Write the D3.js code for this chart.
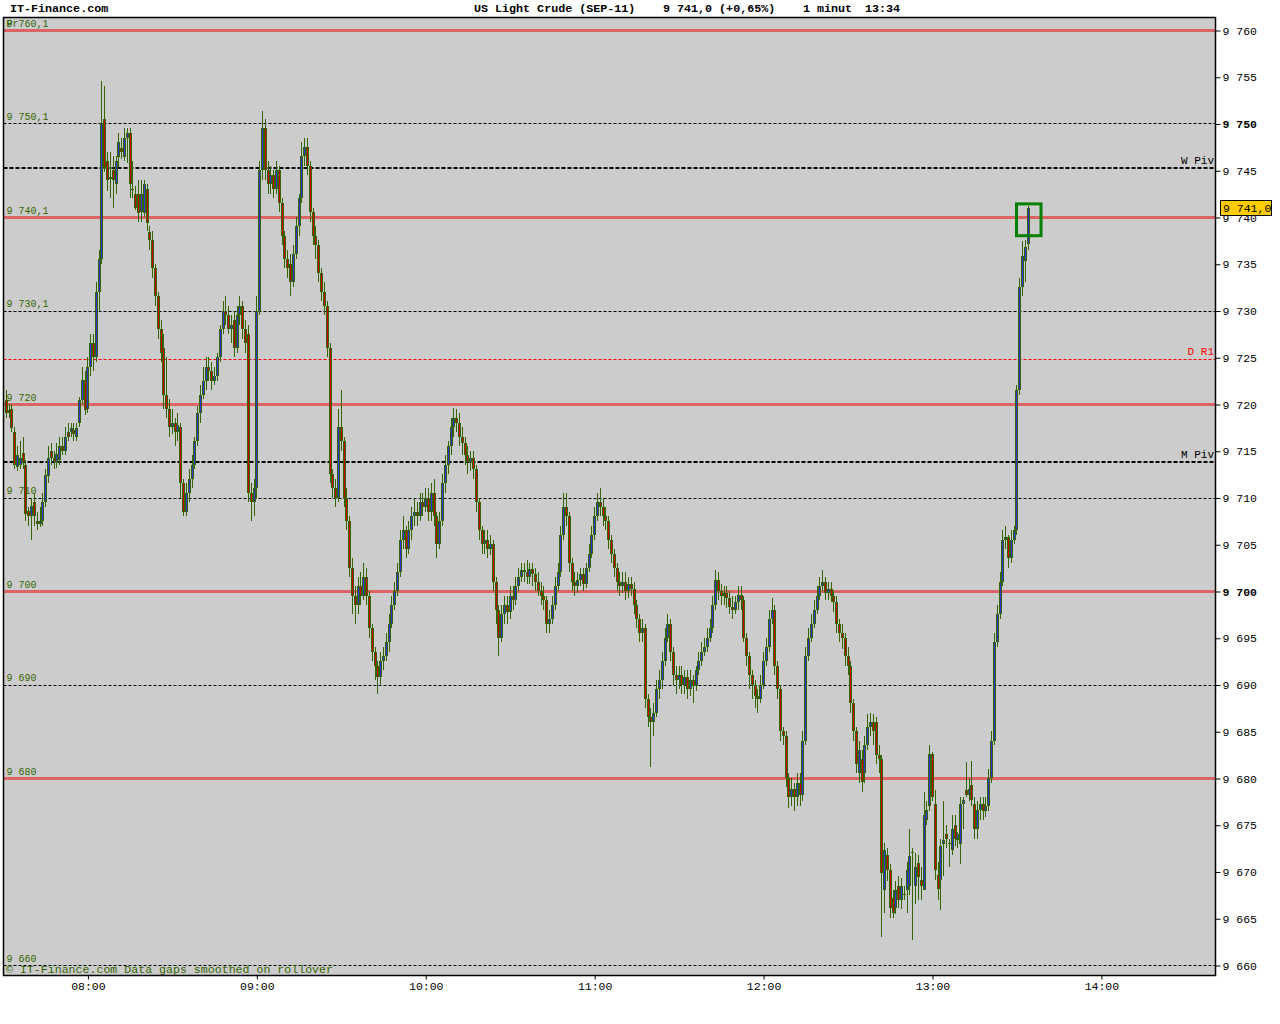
<!DOCTYPE html>
<html><head><meta charset="utf-8">
<script src="https://cdn.jsdelivr.net/npm/d3@7"></script>
<style>
html,body{margin:0;padding:0;background:#fff;}
svg{display:block;}
text{font-family:"Liberation Mono","DejaVu Sans Mono",monospace;white-space:pre;}
</style>
</head><body>
<svg id="chart" width="1280" height="1024"></svg>
<script>
// ---------- DATA ----------
const startMinute = 451; // 07:31, one candle per minute
const opens = [
9720.4,9719.4,9719.5,9717.0,9713.3,9713.5,9714.8,9713.5,9708.6,9708.0,
9709.5,9707.5,9707.2,9707.5,9709.5,9712.3,9715.0,9714.2,9713.8,9714.0,
9715.5,9715.0,9717.0,9717.0,9717.2,9716.5,9718.0,9720.4,9722.6,9719.5,
9724.0,9726.5,9725.0,9732.0,9735.5,9750.5,9746.0,9744.3,9745.0,9743.5,
9746.4,9747.4,9746.4,9748.4,9749.0,9743.0,9742.5,9742.5,9740.5,9740.4,
9743.0,9738.4,9737.5,9734.5,9731.5,9728.0,9726.0,9721.0,9719.5,9717.5,
9718.0,9717.0,9717.5,9711.5,9708.5,9710.5,9712.0,9713.5,9716.0,9719.0,
9721.0,9722.5,9724.0,9723.5,9722.5,9723.0,9725.0,9728.0,9730.0,9729.5,
9728.0,9729.0,9726.0,9729.5,9730.5,9728.0,9727.5,9710.5,9709.5,9711.0,
9730.0,9745.0,9749.5,9745.0,9743.5,9744.5,9743.0,9745.0,9741.5,9738.0,
9735.5,9735.0,9733.0,9736.0,9739.0,9742.0,9746.5,9747.5,9745.5,9740.5,
9738.0,9737.0,9734.0,9732.0,9730.5,9726.0,9712.5,9711.0,9710.0,9717.5,
9716.0,9710.0,9707.5,9702.5,9699.5,9698.5,9700.5,9699.5,9701.5,9699.5,
9696.0,9693.5,9692.0,9690.8,9692.5,9693.0,9694.5,9696.5,9698.5,9700.0,
9702.0,9705.5,9706.5,9704.5,9706.5,9708.0,9708.5,9708.0,9709.5,9709.0,
9710.0,9708.5,9710.5,9708.0,9705.0,9707.5,9711.5,9713.5,9715.5,9717.5,
9718.5,9718.0,9716.5,9715.8,9714.5,9713.8,9714.2,9713.0,9709.5,9706.5,
9705.0,9705.5,9704.5,9705.0,9701.0,9698.0,9695.0,9697.5,9698.5,9697.8,
9699.5,9699.0,9700.5,9701.5,9702.2,9702.0,9701.5,9702.3,9701.8,9701.0,
9700.0,9699.5,9699.0,9696.5,9697.0,9698.5,9700.5,9702.0,9706.0,9709.0,
9708.0,9703.0,9701.0,9700.5,9701.2,9701.8,9700.8,9702.5,9704.0,9706.0,
9708.0,9709.5,9709.0,9708.0,9707.5,9705.5,9704.0,9702.5,9701.0,9700.5,
9701.0,9700.0,9700.8,9700.2,9698.5,9697.0,9695.5,9696.0,9688.5,9686.5,
9686.0,9687.0,9689.5,9690.5,9692.5,9695.0,9696.5,9693.5,9691.0,9690.5,
9691.0,9690.0,9690.8,9689.5,9690.5,9689.8,9691.5,9692.5,9693.5,9694.0,
9695.0,9696.0,9698.5,9701.2,9700.0,9699.5,9699.8,9699.2,9698.3,9698.0,
9698.8,9699.6,9699.0,9695.0,9693.0,9691.0,9690.0,9688.8,9688.5,9690.0,
9692.5,9694.0,9697.0,9698.0,9692.0,9689.5,9685.0,9684.5,9680.0,9678.0,
9678.8,9678.0,9679.5,9678.2,9684.0,9693.0,9695.0,9696.5,9698.0,9699.5,
9700.5,9701.0,9699.8,9700.2,9699.5,9698.8,9696.5,9695.5,9695.0,9693.0,
9692.0,9688.0,9685.0,9680.5,9682.0,9680.5,9683.5,9685.5,9686.0,9686.0,
9682.5,9682.0,9668.0,9671.8,9670.2,9667.2,9666.1,9668.5,9667.0,9667.6,
9668.0,9668.5,9672.1,9668.5,9670.9,9669.1,9668.0,9675.5,9677.0,9682.6,
9677.2,9669.6,9669.1,9672.9,9674.0,9673.0,9672.3,9675.0,9673.4,9672.9,
9677.2,9678.7,9678.2,9679.3,9677.2,9674.5,9676.6,9677.2,9676.5,9677.0,
9680.0,9684.0,9694.5,9697.5,9701.0,9705.5,9705.8,9703.5,9705.5,9706.5,
9721.5,9732.5,9735.3,9737.1];
const highs = [
9721.5,9720.0,9720.0,9717.5,9715.5,9716.0,9716.5,9714.0,9709.0,9710.0,
9710.5,9708.5,9709.0,9710.5,9713.0,9715.5,9715.8,9715.0,9715.8,9716.5,
9716.5,9717.5,9718.0,9718.0,9718.0,9718.0,9720.8,9724.0,9723.5,9725.0,
9727.5,9727.5,9733.0,9736.5,9754.5,9754.0,9747.0,9747.0,9746.5,9746.5,
9749.0,9748.5,9749.5,9749.5,9749.5,9746.0,9743.3,9744.0,9744.0,9744.0,
9743.5,9739.0,9738.5,9735.0,9732.0,9729.0,9727.5,9725.0,9720.5,9719.5,
9718.5,9719.0,9718.0,9712.0,9711.5,9713.0,9714.5,9716.5,9719.8,9722.0,
9724.0,9725.0,9725.0,9724.5,9724.0,9725.5,9728.5,9731.0,9731.5,9730.5,
9729.5,9730.0,9730.5,9731.5,9731.0,9729.0,9728.5,9711.5,9712.0,9731.5,
9746.0,9751.3,9750.5,9746.0,9745.5,9745.0,9746.0,9745.5,9742.0,9738.5,
9736.5,9736.0,9737.0,9740.0,9742.5,9748.0,9748.5,9748.5,9746.0,9741.0,
9739.0,9737.5,9734.5,9733.0,9731.0,9726.5,9713.0,9712.0,9719.5,9721.5,
9716.5,9711.0,9708.0,9703.5,9700.5,9701.5,9702.0,9703.0,9702.5,9700.0,
9696.5,9694.0,9692.5,9693.5,9694.0,9695.5,9697.5,9699.5,9701.0,9703.0,
9706.5,9708.0,9707.0,9707.5,9709.0,9710.0,9709.5,9710.5,9710.5,9711.0,
9711.0,9711.5,9712.0,9708.5,9708.5,9712.5,9714.5,9716.0,9718.5,9719.6,
9719.5,9719.0,9717.5,9716.5,9715.5,9715.0,9715.0,9713.5,9710.0,9707.0,
9706.5,9706.5,9706.0,9705.5,9701.5,9698.5,9698.5,9699.5,9699.5,9700.5,
9700.5,9701.5,9702.5,9703.0,9703.0,9703.3,9703.0,9703.0,9702.5,9702.0,
9701.0,9700.5,9699.5,9698.0,9699.5,9701.5,9703.0,9707.0,9710.5,9710.5,
9708.5,9703.5,9702.0,9702.0,9702.5,9702.5,9703.0,9705.0,9707.0,9709.0,
9710.5,9711.0,9710.0,9709.0,9708.0,9706.0,9704.5,9703.0,9702.0,9702.0,
9702.0,9701.5,9701.5,9701.0,9699.0,9697.5,9697.0,9696.5,9689.0,9687.5,
9688.0,9690.5,9691.5,9693.5,9696.0,9697.5,9697.0,9694.0,9692.0,9692.0,
9692.0,9691.5,9691.5,9691.5,9691.0,9692.0,9693.5,9694.5,9695.0,9696.0,
9697.0,9699.5,9702.2,9702.0,9700.8,9700.5,9700.5,9700.0,9699.5,9699.5,
9700.5,9700.5,9699.5,9695.5,9693.5,9691.5,9690.5,9689.5,9691.0,9693.5,
9695.0,9698.0,9699.3,9698.5,9692.5,9690.0,9685.5,9685.0,9680.5,9680.0,
9679.5,9680.5,9680.5,9685.0,9694.0,9696.0,9697.5,9699.0,9700.5,9701.5,
9702.2,9701.5,9701.0,9701.0,9700.0,9699.5,9697.0,9696.5,9695.5,9694.0,
9692.5,9688.5,9685.5,9684.0,9683.0,9684.5,9686.8,9687.0,9686.8,9686.5,
9683.5,9682.5,9673.0,9672.5,9670.8,9668.0,9669.0,9669.5,9669.3,9668.5,
9671.0,9674.5,9672.5,9672.0,9671.8,9670.5,9678.5,9677.5,9683.5,9682.8,
9678.7,9671.0,9673.5,9677.5,9675.0,9673.5,9676.0,9676.0,9674.2,9678.0,
9678.0,9681.7,9680.0,9681.8,9678.0,9677.5,9678.0,9678.0,9678.0,9681.0,
9685.0,9695.5,9698.5,9702.0,9706.5,9707.0,9706.0,9706.5,9707.0,9722.0,
9733.5,9737.4,9737.5,9741.2];
const lows = [
9718.5,9718.5,9717.0,9713.0,9712.8,9713.0,9713.0,9707.5,9707.0,9705.5,
9707.0,9706.5,9706.8,9707.0,9709.0,9711.5,9713.5,9713.0,9713.2,9713.5,
9714.5,9714.5,9716.0,9716.5,9716.0,9716.0,9717.5,9720.0,9718.8,9719.0,
9723.0,9723.5,9724.5,9730.0,9735.0,9744.8,9742.8,9742.0,9741.0,9742.5,
9745.3,9746.2,9746.0,9745.8,9742.0,9742.0,9740.7,9739.5,9739.5,9740.0,
9738.5,9736.5,9733.5,9730.5,9727.0,9724.5,9719.5,9718.5,9716.5,9716.8,
9715.5,9716.0,9710.0,9708.0,9708.0,9709.5,9711.0,9713.0,9715.5,9718.0,
9720.5,9721.5,9722.5,9721.5,9722.0,9722.5,9724.5,9727.5,9728.5,9727.5,
9726.5,9725.0,9725.5,9728.5,9727.0,9725.5,9709.5,9707.5,9708.0,9710.0,
9729.5,9744.0,9744.0,9742.5,9742.5,9742.0,9742.5,9740.5,9737.0,9734.5,
9733.5,9731.5,9732.5,9735.5,9738.0,9741.5,9745.5,9744.5,9739.5,9737.0,
9735.5,9733.0,9731.0,9729.5,9725.0,9711.5,9710.0,9709.0,9709.5,9715.0,
9709.0,9706.5,9701.5,9697.5,9696.5,9697.5,9698.5,9699.0,9698.5,9695.0,
9692.5,9690.5,9689.0,9690.0,9691.5,9692.5,9693.5,9696.0,9698.0,9699.5,
9701.5,9704.5,9703.5,9704.0,9705.5,9707.0,9707.0,9707.5,9708.0,9708.5,
9707.5,9707.5,9707.0,9703.5,9704.5,9707.0,9710.5,9712.5,9714.5,9716.5,
9717.0,9715.5,9714.5,9713.5,9712.5,9712.8,9712.0,9708.5,9705.5,9704.0,
9704.0,9703.5,9703.8,9700.0,9696.5,9693.0,9694.5,9696.5,9696.5,9697.0,
9698.0,9698.5,9700.0,9701.0,9701.0,9700.8,9700.8,9700.5,9700.0,9699.5,
9698.5,9698.0,9695.5,9695.5,9696.5,9698.0,9700.0,9701.5,9705.5,9707.0,
9702.0,9700.0,9699.5,9699.8,9700.5,9700.0,9700.3,9702.0,9703.5,9705.5,
9707.5,9708.0,9707.0,9706.5,9704.5,9703.0,9701.5,9700.0,9699.5,9699.8,
9699.0,9699.2,9699.5,9697.5,9696.0,9694.5,9694.5,9687.5,9685.5,9681.2,
9684.5,9686.5,9688.5,9689.5,9692.0,9694.5,9692.5,9690.0,9689.0,9689.5,
9689.0,9689.0,9688.5,9688.8,9688.0,9689.3,9691.0,9692.0,9693.0,9693.5,
9694.5,9695.5,9698.0,9699.0,9698.5,9698.5,9698.2,9697.5,9697.0,9697.5,
9698.0,9698.0,9694.5,9692.0,9689.5,9688.5,9687.5,9687.0,9688.0,9689.5,
9692.0,9693.5,9696.5,9691.0,9688.5,9684.0,9683.5,9679.0,9676.8,9677.0,
9676.5,9677.0,9677.0,9677.5,9683.5,9692.5,9694.5,9696.0,9697.5,9699.0,
9700.0,9699.0,9699.0,9698.8,9697.8,9695.5,9694.5,9693.8,9692.0,9691.0,
9687.0,9684.0,9680.5,9679.5,9678.5,9679.5,9683.0,9684.5,9683.5,9681.5,
9680.5,9663.0,9665.6,9669.0,9665.0,9665.0,9665.5,9666.1,9666.0,9667.0,
9665.6,9667.5,9662.7,9666.5,9666.9,9666.9,9668.0,9675.0,9676.5,9677.5,
9669.1,9666.9,9665.9,9669.5,9672.5,9670.5,9671.8,9672.7,9672.5,9670.8,
9674.5,9678.0,9677.5,9677.0,9673.5,9673.5,9675.5,9675.5,9675.8,9676.5,
9679.5,9683.5,9694.0,9697.0,9700.5,9704.5,9702.5,9703.0,9705.0,9706.0,
9721.0,9731.5,9733.0,9736.5];
const closes = [
9719.0,9719.0,9717.4,9713.5,9714.5,9714.2,9713.8,9708.2,9708.0,9709.1,
9708.0,9707.2,9707.5,9709.5,9712.4,9714.2,9714.2,9713.8,9714.6,9715.5,
9715.0,9716.5,9716.5,9717.4,9716.8,9717.4,9720.4,9722.6,9719.4,9724.0,
9726.5,9725.0,9732.0,9735.5,9750.1,9745.2,9744.0,9744.1,9744.0,9746.0,
9748.0,9747.0,9748.4,9749.0,9743.5,9743.0,9741.0,9740.4,9742.5,9743.5,
9739.4,9737.5,9734.5,9731.5,9728.0,9725.5,9721.0,9719.5,9717.5,9718.0,
9717.0,9717.8,9711.5,9708.5,9710.5,9712.0,9713.5,9716.0,9719.0,9721.0,
9722.5,9724.0,9723.5,9722.5,9723.0,9725.0,9728.0,9730.0,9729.5,9728.0,
9728.5,9726.0,9729.5,9730.5,9728.0,9726.5,9710.5,9709.5,9711.0,9730.0,
9745.0,9749.5,9745.0,9743.5,9744.5,9743.0,9745.0,9741.5,9738.0,9735.5,
9734.5,9733.0,9736.0,9739.0,9742.0,9746.5,9747.5,9745.5,9740.5,9738.0,
9737.0,9734.0,9732.0,9730.5,9726.0,9712.5,9711.0,9710.0,9717.5,9716.0,
9710.0,9707.5,9702.5,9699.5,9698.5,9700.5,9699.5,9701.5,9699.5,9696.0,
9693.5,9692.0,9690.8,9692.5,9693.0,9694.5,9696.5,9698.5,9700.0,9702.0,
9705.5,9706.5,9704.5,9706.5,9708.0,9708.5,9708.0,9709.5,9709.0,9710.0,
9708.5,9710.5,9708.0,9705.0,9707.5,9711.5,9713.5,9715.5,9717.5,9718.5,
9718.0,9716.5,9715.8,9714.5,9713.8,9714.2,9713.0,9709.5,9706.5,9705.0,
9705.5,9704.5,9705.0,9701.0,9698.0,9695.0,9697.5,9698.5,9697.8,9699.5,
9699.0,9700.5,9701.5,9702.2,9702.0,9701.5,9702.3,9701.8,9701.0,9700.0,
9699.5,9699.0,9696.5,9697.0,9698.5,9700.5,9702.0,9706.0,9709.0,9708.0,
9703.0,9701.0,9700.5,9701.2,9701.8,9700.8,9702.5,9704.0,9706.0,9708.0,
9709.5,9709.0,9708.0,9707.5,9705.5,9704.0,9702.5,9701.0,9700.5,9701.0,
9700.0,9700.8,9700.2,9698.5,9697.0,9695.5,9696.0,9688.5,9686.5,9686.0,
9687.0,9689.5,9690.5,9692.5,9695.0,9696.5,9693.5,9691.0,9690.5,9691.0,
9690.0,9690.8,9689.5,9690.5,9689.8,9691.5,9692.5,9693.5,9694.0,9695.0,
9696.0,9698.5,9701.2,9700.0,9699.5,9699.8,9699.2,9698.3,9698.0,9698.8,
9699.6,9699.0,9695.0,9693.0,9691.0,9690.0,9688.8,9688.5,9690.0,9692.5,
9694.0,9697.0,9698.0,9692.0,9689.5,9685.0,9684.5,9680.0,9678.0,9678.8,
9678.0,9679.5,9678.2,9684.0,9693.0,9695.0,9696.5,9698.0,9699.5,9700.5,
9701.0,9699.8,9700.2,9699.5,9698.8,9696.5,9695.5,9695.0,9693.0,9692.0,
9688.0,9685.0,9681.5,9683.0,9679.6,9683.5,9685.5,9686.0,9685.0,9682.5,
9682.0,9669.8,9672.3,9670.2,9666.1,9665.6,9668.0,9667.0,9668.4,9667.6,
9670.2,9671.7,9672.1,9670.5,9669.4,9668.5,9676.0,9676.6,9682.6,9678.0,
9670.2,9668.1,9672.7,9673.4,9673.5,9673.0,9674.5,9673.5,9674.0,9677.2,
9677.7,9678.2,9678.8,9677.7,9674.5,9676.6,9677.2,9676.5,9677.0,9680.0,
9684.0,9694.5,9697.5,9701.0,9705.5,9705.8,9703.5,9705.5,9706.5,9721.5,
9732.5,9735.8,9736.8,9741.0];

const priceTicks = d3.range(9660, 9761, 5);
const boldTicks = [9750, 9700];
const redLevels = [9760, 9740, 9720, 9700, 9680];
const redLabels = ["9 760,1", "9 740,1", "9 720", "9 700", "9 680"];
const dashLevels = [9750, 9730, 9710, 9690, 9660];
const dashLabels = ["9 750,1", "9 730,1", "9 710", "9 690", "9 660"];
const pivotNames = ["W Piv", "M Piv"];
const pivotValues = [9745.2, 9713.8];
const dailyR1 = 9724.8;
const timeTicks = [480, 540, 600, 660, 720, 780, 840];
const lastPrice = 9741.0;
const highlightBox = [9741.4, 9738.0];

// ---------- DRAW ----------
const svg = d3.select("#chart");
const W = 1280, H = 1024;
const L = 3.5, R = 1215.5, T = 17.5, B = 975.5;
const FONT = '"Liberation Mono","DejaVu Sans Mono",monospace';
const GREEN = "#336600";

const x = d3.scaleLinear().domain([450.2, 880.7]).range([L, R]);
const y = d3.scaleLinear().domain([9660, 9760]).range([965, 30]);

svg.append("rect").attr("width", W).attr("height", H).attr("fill", "#fff");
svg.append("rect").attr("x", L).attr("y", T).attr("width", R - L).attr("height", B - T)
  .attr("fill", "#cccccc");

svg.append("defs").append("clipPath").attr("id", "plot")
  .append("rect").attr("x", L).attr("y", T).attr("width", R - L).attr("height", B - T);
const g = svg.append("g").attr("clip-path", "url(#plot)");

const py = v => Math.round(y(v)) + 0.5;

// thin dashed levels
g.selectAll("line.dl").data(dashLevels).join("line")
  .attr("x1", L).attr("x2", R).attr("y1", py).attr("y2", py)
  .attr("stroke", "#000").attr("stroke-width", 1).attr("stroke-dasharray", "3,2");
// daily R1
g.append("line").attr("x1", L).attr("x2", R).attr("y1", py(dailyR1)).attr("y2", py(dailyR1))
  .attr("stroke", "#ff0000").attr("stroke-width", 1).attr("stroke-dasharray", "3,2");
// pivots
g.selectAll("line.pv").data(pivotValues).join("line")
  .attr("x1", L).attr("x2", R).attr("y1", v => Math.round(y(v))).attr("y2", v => Math.round(y(v)))
  .attr("stroke", "#000").attr("stroke-width", 2).attr("stroke-dasharray", "4,2");
// red solid levels
g.selectAll("line.rl").data(redLevels).join("line")
  .attr("x1", L).attr("x2", R).attr("y1", py).attr("y2", py)
  .attr("stroke", "#dc6464").attr("stroke-width", 3);

// level labels (left)
const lvLabels = redLevels.map((v, i) => [v, redLabels[i]]).concat(dashLevels.map((v, i) => [v, dashLabels[i]]));
g.selectAll("text.lv").data(lvLabels).join("text")
  .attr("x", 6.5).attr("y", d => y(d[0]) - 3.5)
  .attr("fill", GREEN).attr("font-size", "10px").style("font-family", FONT)
  .text(d => d[1]);
g.append("text").attr("x", 6.5).attr("y", y(9760) - 3.5).attr("fill", GREEN)
  .attr("font-size", "10px").style("font-family", FONT).text("Pr");

// right level names
g.selectAll("text.pvn").data(pivotValues).join("text")
  .attr("x", 1214).attr("y", v => y(v) - 4).attr("text-anchor", "end")
  .attr("font-size", "11px").style("font-family", FONT).attr("fill", "#000")
  .text((v, i) => pivotNames[i]);
g.append("text").attr("x", 1214).attr("y", y(dailyR1) - 4).attr("text-anchor", "end")
  .attr("font-size", "11px").style("font-family", FONT).attr("fill", "#ff0000").text("D R1");

// candles
const idx = d3.range(closes.length);
const cg = g.append("g");
idx.forEach(i => {
  const cx = Math.round(x(startMinute + i));
  const o = opens[i], c = closes[i], hi = highs[i], lo = lows[i];
  cg.append("rect").attr("x", cx).attr("width", 1)
    .attr("y", Math.round(y(hi))).attr("height", Math.max(1, Math.round(y(lo)) - Math.round(y(hi))))
    .attr("fill", GREEN);
  const top = Math.round(y(Math.max(o, c))), bot = Math.round(y(Math.min(o, c)));
  const h = Math.max(1, bot - top);
  cg.append("rect").attr("x", cx - 1).attr("width", 3).attr("y", top).attr("height", h).attr("fill", GREEN);
  if (h > 2 && c !== o) {
    cg.append("rect").attr("x", cx).attr("width", 1).attr("y", top + 1).attr("height", h - 2)
      .attr("fill", c > o ? "#3030e0" : "#c80000");
  }
});

// highlight box on last candle
const lastX = Math.round(x(startMinute + closes.length - 1)) + 0.5;
g.append("rect").attr("x", lastX - 12).attr("width", 24.5)
  .attr("y", y(highlightBox[0])).attr("height", y(highlightBox[1]) - y(highlightBox[0]))
  .attr("fill", "none").attr("stroke", "#008000").attr("stroke-width", 3);

// bottom note
svg.append("text").attr("x", 6).attr("y", 973).attr("fill", GREEN)
  .attr("font-size", "11.6px").style("font-family", FONT)
  .text("© IT-Finance.com Data gaps smoothed on rollover");

// border
svg.append("rect").attr("x", L).attr("y", T).attr("width", R - L).attr("height", B - T)
  .attr("fill", "none").attr("stroke", "#000").attr("stroke-width", 1.5);

// right axis
const yAxis = d3.axisRight(y).tickValues(priceTicks).tickSize(5).tickPadding(2)
  .tickFormat(v => "9 " + String(v).slice(1));
const ya = svg.append("g").attr("transform", `translate(${R},0.5)`).call(yAxis);
ya.select(".domain").remove();
ya.selectAll("line").attr("stroke", "#000");
ya.selectAll("text").style("font-family", FONT).attr("font-size", "11.5px").attr("fill", "#000")
  .attr("font-weight", v => boldTicks.includes(v) ? "bold" : "normal");

// bottom axis
const xAxis = d3.axisBottom(x).tickValues(timeTicks).tickSize(4).tickPadding(2)
  .tickFormat(m => String(Math.floor(m / 60)).padStart(2, "0") + ":" + String(m % 60).padStart(2, "0"));
const xa = svg.append("g").attr("transform", `translate(0.5,${B})`).call(xAxis);
xa.select(".domain").remove();
xa.selectAll("line").attr("stroke", "#000");
xa.selectAll("text").style("font-family", FONT).attr("font-size", "11.5px").attr("fill", "#000");

// last price box
const ly = y(lastPrice);
svg.append("rect").attr("x", 1220.5).attr("y", Math.round(ly) - 7.5).attr("width", 51).attr("height", 15)
  .attr("fill", "#ffcc00").attr("stroke", "#000").attr("stroke-width", 1);
svg.append("text").attr("x", 1223).attr("y", ly).attr("dy", "0.35em")
  .attr("font-size", "11.5px").style("font-family", FONT).attr("fill", "#000")
  .text("9 " + lastPrice.toFixed(1).slice(1).replace(".", ","));

// header
const hdr = [[10, "IT-Finance.com"], [474, "US Light Crude (SEP-11)"], [663, "9 741,0 (+0,65%)"], [803, "1 minut"], [865, "13:34"]];
svg.selectAll("text.hdr").data(hdr).join("text")
  .attr("x", d => d[0]).attr("y", 12).attr("font-size", "11.7px").attr("font-weight", "bold")
  .style("font-family", FONT).attr("fill", "#000").text(d => d[1]);
</script>
</body></html>
